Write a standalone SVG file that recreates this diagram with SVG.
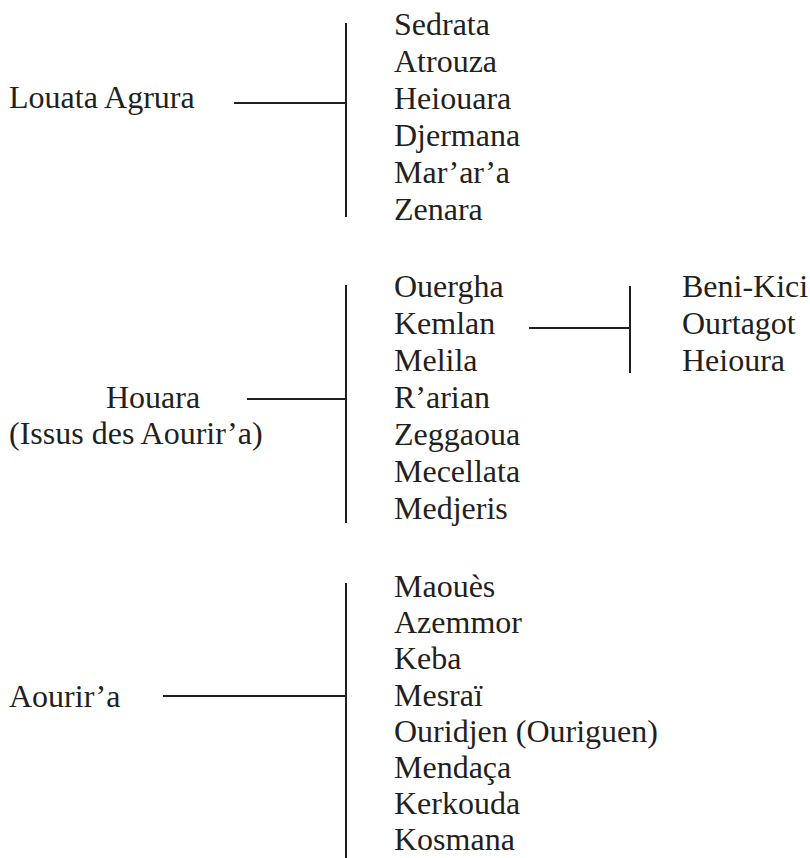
<svg xmlns="http://www.w3.org/2000/svg" width="810" height="858" viewBox="0 0 810 858">
<style>
text { font-family: "Liberation Serif", "Times New Roman", serif; font-size: 32px; fill: #231f20; }
.ln { stroke: #231f20; stroke-width: 2; fill: none; }
</style>
<rect width="810" height="858" fill="#ffffff"/>
<g id="connectors">
<line class="ln" x1="234" y1="103" x2="346" y2="103"/>
<line class="ln" x1="346" y1="23" x2="346" y2="217"/>
<line class="ln" x1="247" y1="399" x2="346" y2="399"/>
<line class="ln" x1="346" y1="285" x2="346" y2="523"/>
<line class="ln" x1="529" y1="328" x2="630" y2="328"/>
<line class="ln" x1="630" y1="286" x2="630" y2="373"/>
<line class="ln" x1="163" y1="696" x2="346" y2="696"/>
<line class="ln" x1="346" y1="583" x2="346" y2="858"/>
</g>
<g id="louata">
<text x="9" y="108">Louata Agrura</text>
</g>
<g id="louata-list">
<text x="394" y="35">Sedrata</text>
<text x="394" y="72">Atrouza</text>
<text x="394" y="109">Heiouara</text>
<text x="394" y="146">Djermana</text>
<text x="394" y="183">Mar’ar’a</text>
<text x="394" y="220">Zenara</text>
</g>
<g id="houara">
<text x="106" y="408">Houara</text>
<text x="9" y="444">(Issus des Aourir’a)</text>
</g>
<g id="houara-list">
<text x="394" y="297">Ouergha</text>
<text x="394" y="334">Kemlan</text>
<text x="394" y="371">Melila</text>
<text x="394" y="408">R’arian</text>
<text x="394" y="445">Zeggaoua</text>
<text x="394" y="482">Mecellata</text>
<text x="394" y="519">Medjeris</text>
</g>
<g id="kemlan-list">
<text x="682" y="297">Beni-Kici</text>
<text x="682" y="334">Ourtagot</text>
<text x="682" y="371">Heioura</text>
</g>
<g id="aourira">
<text x="9" y="707">Aourir’a</text>
</g>
<g id="aourira-list">
<text x="394" y="597">Maouès</text>
<text x="394" y="633">Azemmor</text>
<text x="394" y="669">Keba</text>
<text x="394" y="706">Mesraï</text>
<text x="394" y="742">Ouridjen (Ouriguen)</text>
<text x="394" y="778">Mendaça</text>
<text x="394" y="814">Kerkouda</text>
<text x="394" y="850">Kosmana</text>
</g>
</svg>
